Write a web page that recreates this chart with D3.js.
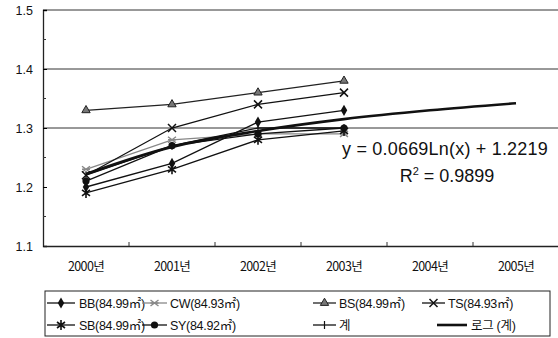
<!DOCTYPE html>
<html lang="ko">
<head>
<meta charset="UTF-8">
<title>면적 비율 추이</title>
<style>
    body { margin: 0; background: #fff; }
    svg { display: block; font-family: "Liberation Sans", Arial, "Noto Sans CJK KR", sans-serif; }
</style>
</head>
<body>
<div id="chart"></div>
<script src="https://d3js.org/d3.v7.min.js"></script>
<script>
    // 데이터
    const years = ['2000년', '2001년', '2002년', '2003년', '2004년', '2005년'];
    const BB = [1.20, 1.24, 1.31, 1.33];
    const CW = [1.23, 1.28, 1.29, 1.29];
    const BS = [1.33, 1.34, 1.36, 1.38];
    const TS = [1.22, 1.30, 1.34, 1.36];
    const SB = [1.19, 1.23, 1.28, 1.295];
    const SY = [1.21, 1.27, 1.29, 1.30];
    const total = [1.22, 1.27, 1.30, 1.30];
    const logTrend = [1.222, 1.268, 1.295, 1.315, 1.330, 1.342];
    const yTicks = [1.1, 1.2, 1.3, 1.4, 1.5];
    const equation = 'y = 0.0669Ln(x) + 1.2219';
    const rSquared = '0.9899';

    const series = [
        { name: 'BB(84.99㎡)', values: BB, marker: 'diamond', color: '#111' },
        { name: 'CW(84.93㎡)', values: CW, marker: 'asterisk', color: '#888' },
        { name: 'BS(84.99㎡)', values: BS, marker: 'triangle', color: '#222' },
        { name: 'TS(84.93㎡)', values: TS, marker: 'cross', color: '#111' },
        { name: 'SB(84.99㎡)', values: SB, marker: 'star', color: '#111' },
        { name: 'SY(84.92㎡)', values: SY, marker: 'circle', color: '#111' },
        { name: '계', values: total, marker: 'plus', color: '#111' },
        { name: '로그 (계)', values: logTrend, marker: 'none', color: '#111', thick: true }
    ];

    const width = 558, height = 338;
    const svg = d3.select('#chart').append('svg')
        .attr('width', width)
        .attr('height', height);

    const xScale = d3.scaleBand().domain(years).range([43, 559]);
    const yScale = d3.scaleLinear().domain([1.1, 1.5]).range([246, 10]);
    const xPos = i => xScale(years[i]) + xScale.bandwidth() / 2;

    // 격자선
    svg.append('g').selectAll('line').data(yTicks.filter(d => d > 1.25)).join('line')
        .attr('x1', 43).attr('x2', width)
        .attr('y1', d => yScale(d)).attr('y2', d => yScale(d))
        .attr('stroke', '#333').attr('stroke-width', 1);

    // y 축
    const yAxis = d3.axisLeft(yScale).tickValues(yTicks).tickSize(-4).tickPadding(10)
        .tickFormat(d3.format('.1f'));
    const yg = svg.append('g').attr('transform', 'translate(43,0)').call(yAxis);
    yg.select('.domain').attr('stroke', '#222').attr('stroke-width', 1.3);
    yg.selectAll('.tick text').attr('font-size', 12.5).attr('fill', '#111');
    yg.selectAll('.minor').data(d3.range(1.15, 1.5, 0.1)).join('line')
        .attr('x1', 0).attr('x2', 3)
        .attr('y1', d => yScale(d)).attr('y2', d => yScale(d))
        .attr('stroke', '#333');

    // x 축
    const xAxis = d3.axisBottom(xScale).tickSize(0).tickPadding(16);
    const xg = svg.append('g').attr('transform', 'translate(0,246)').call(xAxis);
    xg.select('.domain').attr('stroke', '#222').attr('stroke-width', 1.3);
    xg.selectAll('.tick text').attr('font-size', 12.5).attr('fill', '#111')
        .attr('font-family', '"Noto Sans CJK KR", sans-serif').attr('letter-spacing', -0.6);
    xg.selectAll('.btick').data(years.slice(1)).join('line')
        .attr('x1', d => xScale(d)).attr('x2', d => xScale(d))
        .attr('y1', 0).attr('y2', -4)
        .attr('stroke', '#333');

    // 마커
    function drawMarker(g, type, color) {
        if (type === 'diamond') {
            g.append('path').attr('d', d3.symbol(d3.symbolDiamond, 36)()).attr('fill', color);
        } else if (type === 'triangle') {
            g.append('path').attr('d', d3.symbol(d3.symbolTriangle, 30)()).attr('fill', '#777').attr('stroke', color);
        } else if (type === 'circle') {
            g.append('circle').attr('r', 3.6).attr('fill', color);
        } else if (type === 'cross') {
            g.append('path').attr('d', 'M-4,-4L4,4M-4,4L4,-4').attr('stroke', color).attr('stroke-width', 1.5);
        } else if (type === 'asterisk') {
            g.append('path').attr('d', 'M-4,-3L4,3M-4,3L4,-3M-4,0L4,0').attr('stroke', color).attr('stroke-width', 1.4);
        } else if (type === 'star') {
            g.append('path').attr('d', 'M-4,-3L4,3M-4,3L4,-3M0,-5L0,5').attr('stroke', color).attr('stroke-width', 1.6);
        } else if (type === 'plus') {
            g.append('path').attr('d', 'M0,-4L0,4').attr('stroke', color).attr('stroke-width', 1.2);
        }
    }

    const straight = d3.line().x((d, i) => xPos(i)).y(d => yScale(d));
    const smooth = d3.line().x((d, i) => xPos(i)).y(d => yScale(d)).curve(d3.curveMonotoneX);

    const plot = svg.append('g');
    series.forEach(s => {
        plot.append('path')
            .attr('d', s.thick ? smooth(s.values) : straight(s.values))
            .attr('fill', 'none')
            .attr('stroke', s.color)
            .attr('stroke-width', s.thick ? 2.6 : 1.3);
        if (s.marker !== 'none') {
            s.values.forEach((v, i) => {
                drawMarker(plot.append('g').attr('transform', `translate(${xPos(i)},${yScale(v)})`), s.marker, s.color);
            });
        }
    });

    // 추세식
    svg.append('text')
        .attr('x', 445).attr('y', 155)
        .attr('text-anchor', 'middle')
        .attr('font-size', 18).attr('fill', '#111')
        .attr('letter-spacing', 0.2)
        .text(equation);
    const r2 = svg.append('text')
        .attr('x', 447).attr('y', 182)
        .attr('text-anchor', 'middle')
        .attr('font-size', 18).attr('fill', '#111');
    r2.append('tspan').text('R');
    r2.append('tspan').attr('dy', -7).attr('font-size', 11).text('2');
    r2.append('tspan').attr('dy', 7).text(' = ' + rSquared);

    // 범례
    const legend = svg.append('g');
    legend.append('rect')
        .attr('x', 45).attr('y', 291).attr('width', 505).attr('height', 45)
        .attr('fill', 'none').attr('stroke', '#222').attr('stroke-width', 1);
    // [선 시작, 선 끝, 글자 시작]
    const legendPos = [
        [47, 75, 79, 303], [142, 167, 170, 303], [313, 336, 339, 303], [422, 445, 448, 303],
        [47, 75, 79, 325], [142, 167, 170, 325], [313, 336, 339, 325], [437, 467, 471, 325]
    ];
    const li = legend.selectAll('.item').data(series).join('g')
        .attr('class', 'item')
        .attr('transform', (d, i) => `translate(0,${legendPos[i][3]})`);
    li.each(function (d, i) {
        const g = d3.select(this);
        const p = legendPos[i];
        g.append('line')
            .attr('x1', p[0]).attr('x2', p[1])
            .attr('y1', 0).attr('y2', 0)
            .attr('stroke', d.color).attr('stroke-width', d.thick ? 2.6 : 1.3);
        if (d.marker !== 'none') {
            drawMarker(g.append('g').attr('transform', `translate(${(p[0] + p[1]) / 2},0)`), d.marker, d.color);
        }
        g.append('text')
            .attr('x', p[2]).attr('y', 5)
            .attr('font-size', 12.5).attr('fill', '#111')
            .attr('font-family', '"Liberation Sans", "Noto Sans CJK KR", sans-serif')
            .attr('letter-spacing', -0.3)
            .text(d.name);
    });
</script>
</body>
</html>
